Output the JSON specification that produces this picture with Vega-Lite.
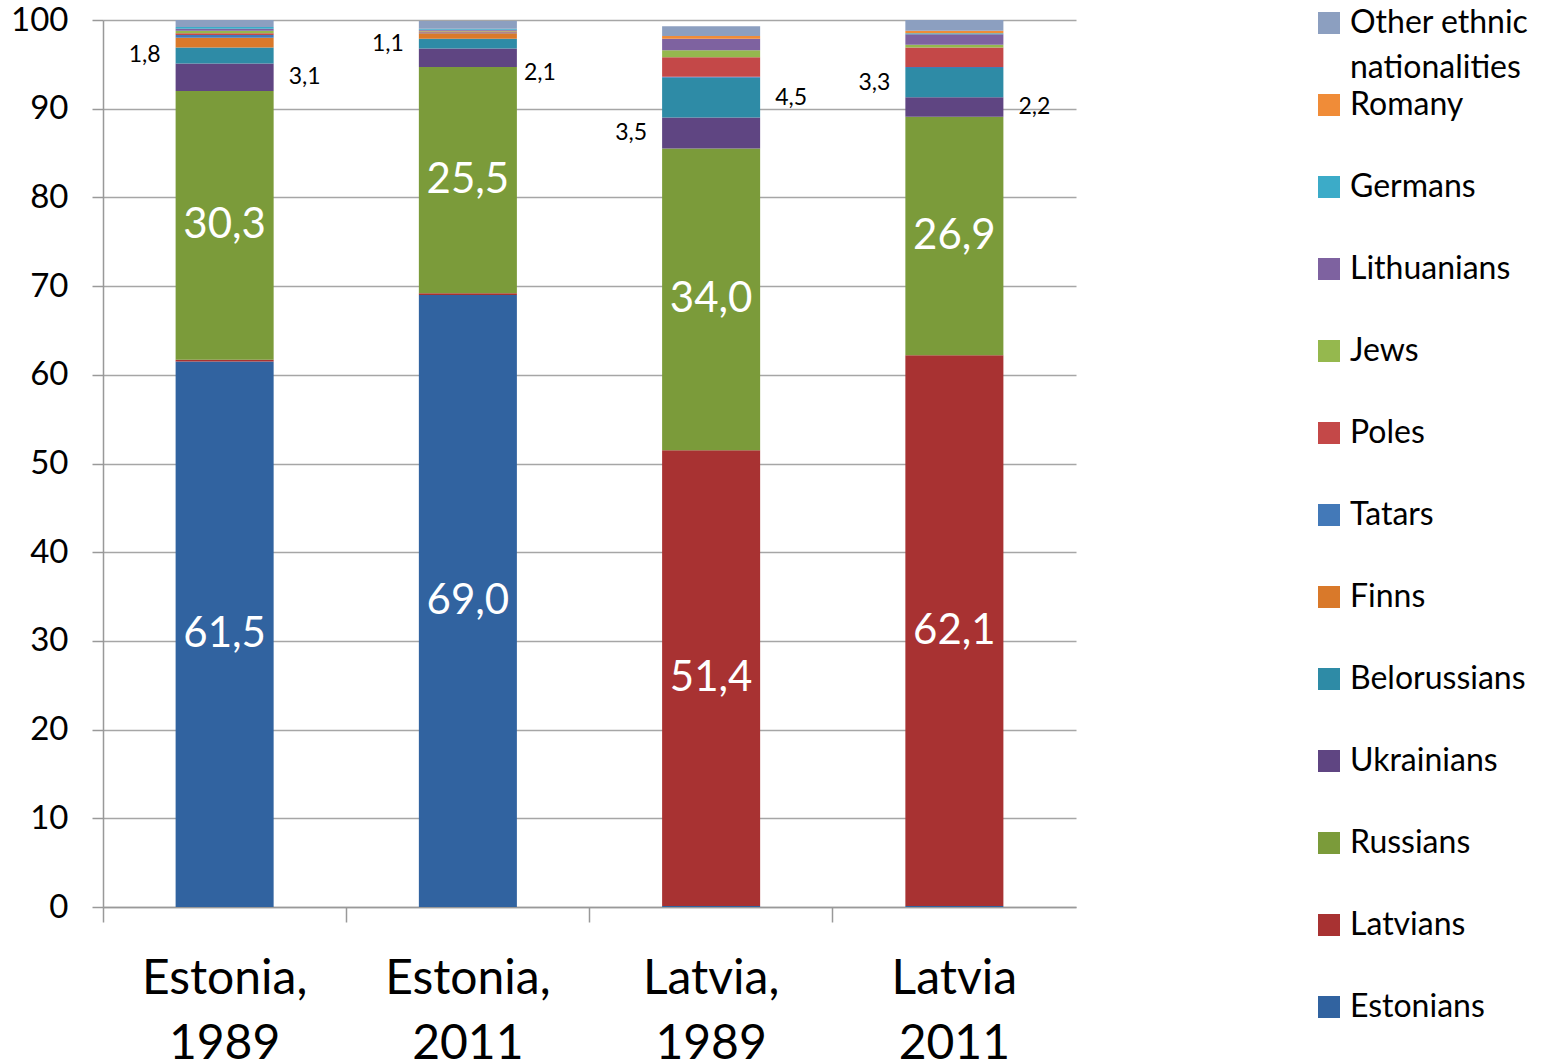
{
  "$schema": "https://vega.github.io/schema/vega-lite/v6.json",
  "width": 973,
  "height": 887,
  "autosize": {"type": "none"},
  "padding": {"left": 103, "top": 20, "right": 472, "bottom": 153},
  "background": "white",
  "config": {"font": "Lato", "view": {"stroke": null}},
  "data": {
    "values": [
      {"group": "Estonia, 1989", "nationality": "Estonians", "value": 61.5},
      {"group": "Estonia, 1989", "nationality": "Latvians", "value": 0.2},
      {"group": "Estonia, 1989", "nationality": "Russians", "value": 30.3},
      {"group": "Estonia, 1989", "nationality": "Ukrainians", "value": 3.1},
      {"group": "Estonia, 1989", "nationality": "Belorussians", "value": 1.8},
      {"group": "Estonia, 1989", "nationality": "Finns", "value": 1.1},
      {"group": "Estonia, 1989", "nationality": "Tatars", "value": 0.3},
      {"group": "Estonia, 1989", "nationality": "Poles", "value": 0.2},
      {"group": "Estonia, 1989", "nationality": "Jews", "value": 0.3},
      {"group": "Estonia, 1989", "nationality": "Lithuanians", "value": 0.2},
      {"group": "Estonia, 1989", "nationality": "Germans", "value": 0.2},
      {"group": "Estonia, 1989", "nationality": "Romany", "value": 0.0},
      {"group": "Estonia, 1989", "nationality": "Other ethnic nationalities", "value": 0.8},
      {"group": "Estonia, 2011", "nationality": "Estonians", "value": 69.0},
      {"group": "Estonia, 2011", "nationality": "Latvians", "value": 0.2},
      {"group": "Estonia, 2011", "nationality": "Russians", "value": 25.5},
      {"group": "Estonia, 2011", "nationality": "Ukrainians", "value": 2.1},
      {"group": "Estonia, 2011", "nationality": "Belorussians", "value": 1.1},
      {"group": "Estonia, 2011", "nationality": "Finns", "value": 0.6},
      {"group": "Estonia, 2011", "nationality": "Tatars", "value": 0.1},
      {"group": "Estonia, 2011", "nationality": "Poles", "value": 0.1},
      {"group": "Estonia, 2011", "nationality": "Jews", "value": 0.1},
      {"group": "Estonia, 2011", "nationality": "Lithuanians", "value": 0.1},
      {"group": "Estonia, 2011", "nationality": "Germans", "value": 0.1},
      {"group": "Estonia, 2011", "nationality": "Romany", "value": 0.0},
      {"group": "Estonia, 2011", "nationality": "Other ethnic nationalities", "value": 0.9},
      {"group": "Latvia, 1989", "nationality": "Estonians", "value": 0.1},
      {"group": "Latvia, 1989", "nationality": "Latvians", "value": 51.4},
      {"group": "Latvia, 1989", "nationality": "Russians", "value": 34.0},
      {"group": "Latvia, 1989", "nationality": "Ukrainians", "value": 3.5},
      {"group": "Latvia, 1989", "nationality": "Belorussians", "value": 4.5},
      {"group": "Latvia, 1989", "nationality": "Finns", "value": 0.0},
      {"group": "Latvia, 1989", "nationality": "Tatars", "value": 0.1},
      {"group": "Latvia, 1989", "nationality": "Poles", "value": 2.2},
      {"group": "Latvia, 1989", "nationality": "Jews", "value": 0.8},
      {"group": "Latvia, 1989", "nationality": "Lithuanians", "value": 1.3},
      {"group": "Latvia, 1989", "nationality": "Germans", "value": 0.0},
      {"group": "Latvia, 1989", "nationality": "Romany", "value": 0.3},
      {"group": "Latvia, 1989", "nationality": "Other ethnic nationalities", "value": 1.1},
      {"group": "Latvia 2011", "nationality": "Estonians", "value": 0.1},
      {"group": "Latvia 2011", "nationality": "Latvians", "value": 62.1},
      {"group": "Latvia 2011", "nationality": "Russians", "value": 26.9},
      {"group": "Latvia 2011", "nationality": "Ukrainians", "value": 2.2},
      {"group": "Latvia 2011", "nationality": "Belorussians", "value": 3.3},
      {"group": "Latvia 2011", "nationality": "Finns", "value": 0.0},
      {"group": "Latvia 2011", "nationality": "Tatars", "value": 0.1},
      {"group": "Latvia 2011", "nationality": "Poles", "value": 2.2},
      {"group": "Latvia 2011", "nationality": "Jews", "value": 0.3},
      {"group": "Latvia 2011", "nationality": "Lithuanians", "value": 1.2},
      {"group": "Latvia 2011", "nationality": "Germans", "value": 0.1},
      {"group": "Latvia 2011", "nationality": "Romany", "value": 0.3},
      {"group": "Latvia 2011", "nationality": "Other ethnic nationalities", "value": 1.2}
    ]
  },
  "transform": [
    {"calculate": "indexof(['Estonians','Latvians','Russians','Ukrainians','Belorussians','Finns','Tatars','Poles','Jews','Lithuanians','Germans','Romany','Other ethnic nationalities'], datum.nationality)", "as": "rank"},
    {"stack": "value", "groupby": ["group"], "sort": [{"field": "rank", "order": "ascending"}], "as": ["v0", "v1"]},
    {"calculate": "(datum.v0 + datum.v1) / 2", "as": "mid"},
    {"calculate": "replace(format(datum.value, '.1f'), '.', ',')", "as": "label"}
  ],
  "layer": [
    {
      "mark": {"type": "bar", "width": {"band": 0.403}},
      "encoding": {
        "x": {
          "field": "group", "type": "nominal", "sort": null,
          "scale": {"paddingInner": 0, "paddingOuter": 0},
          "axis": {
            "title": null, "labelAngle": 0, "labelExpr": "split(datum.label, ' ')",
            "labelFontSize": 48, "labelLineHeight": 65, "labelBaseline": "top", "labelColor": "black",
            "labelPadding": 33, "tickSize": 15, "bandPosition": 0, "tickColor": "#999999", "tickWidth": 1.5,
            "domainColor": "#999999", "domainWidth": 1.5, "grid": false
          }
        },
        "y": {
          "field": "v0", "type": "quantitative",
          "scale": {"domain": [0, 100], "nice": false},
          "axis": {
            "title": null, "values": [0, 10, 20, 30, 40, 50, 60, 70, 80, 90, 100],
            "labelFontSize": 33, "labelColor": "black", "labelPadding": 24, "tickSize": 11,
            "tickColor": "#999999", "tickWidth": 1.5, "domainColor": "#999999", "domainWidth": 1.5,
            "grid": true, "gridColor": "#a6a6a6", "gridWidth": 1.5
          }
        },
        "y2": {"field": "v1"},
        "color": {
          "field": "nationality", "type": "nominal",
          "scale": {
            "domain": ["Other ethnic nationalities", "Romany", "Germans", "Lithuanians", "Jews", "Poles", "Tatars", "Finns", "Belorussians", "Ukrainians", "Russians", "Latvians", "Estonians"],
            "range": ["#8c9fc0", "#f08c38", "#3cabc8", "#7e62a0", "#95b84e", "#c44848", "#4379b8", "#d9792a", "#2e8ba6", "#5f4582", "#7b9b3a", "#a83232", "#3163a0"]
          },
          "legend": {
            "title": null, "orient": "none", "legendX": 1210, "legendY": -13, "padding": 0,
            "labelFontSize": 32, "labelColor": "black", "labelLimit": 400, "labelBaseline": "alphabetic",
            "symbolType": "square", "symbolSize": 484, "symbolStrokeWidth": 0,
            "gridAlign": "all", "rowPadding": 5, "labelOffset": 5,
            "labelExpr": "datum.label == 'Other ethnic nationalities' ? ['Other ethnic', 'nationalities'] : datum.label",
            "encode": {"labels": {"update": {"dy": {"value": 10}, "lineHeight": {"value": 45}}}}
          }
        }
      }
    },
    {
      "transform": [{"filter": "datum.value >= 20"}],
      "mark": {"type": "text", "color": "white", "fontSize": 42},
      "encoding": {
        "x": {"field": "group", "type": "nominal", "sort": null},
        "y": {"field": "mid", "type": "quantitative"},
        "text": {"field": "label"}
      }
    },
    {
      "transform": [{"filter": "(datum.nationality == 'Belorussians' && datum.group != 'Latvia, 1989') || (datum.nationality == 'Ukrainians' && datum.group == 'Latvia, 1989')"}],
      "mark": {"type": "text", "color": "black", "fontSize": 23, "dx": -80},
      "encoding": {
        "x": {"field": "group", "type": "nominal", "sort": null},
        "y": {"field": "mid", "type": "quantitative"},
        "text": {"field": "label"}
      }
    },
    {
      "transform": [{"filter": "(datum.nationality == 'Ukrainians' && datum.group != 'Latvia, 1989' && datum.group != 'Estonia, 2011') || (datum.nationality == 'Belorussians' && datum.group == 'Latvia, 1989')"}],
      "mark": {"type": "text", "color": "black", "fontSize": 23, "dx": 80},
      "encoding": {
        "x": {"field": "group", "type": "nominal", "sort": null},
        "y": {"field": "mid", "type": "quantitative"},
        "text": {"field": "label"}
      }
    },
    {
      "transform": [{"filter": "datum.nationality == 'Ukrainians' && datum.group == 'Estonia, 2011'"}],
      "mark": {"type": "text", "color": "black", "fontSize": 23, "dx": 72, "dy": 15},
      "encoding": {
        "x": {"field": "group", "type": "nominal", "sort": null},
        "y": {"field": "mid", "type": "quantitative"},
        "text": {"field": "label"}
      }
    }
  ]
}
